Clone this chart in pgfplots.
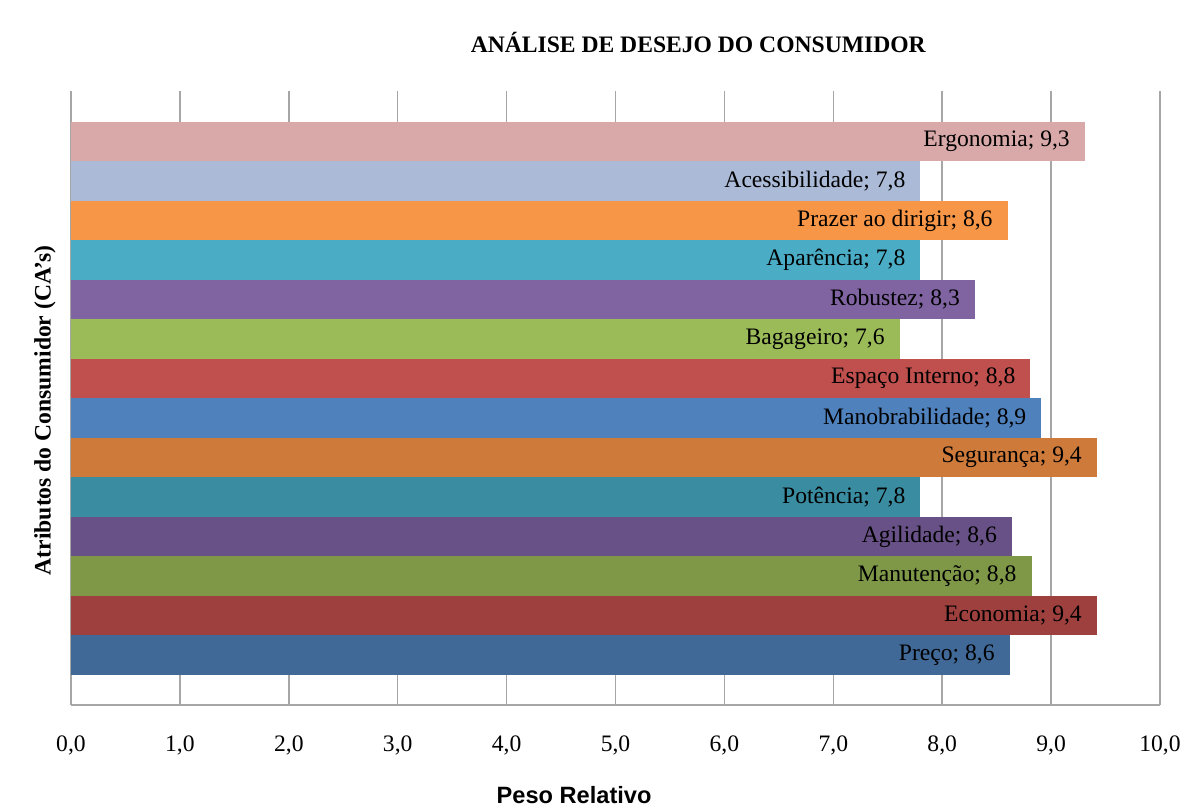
\documentclass[border=0pt]{standalone}
\usepackage{pgfplots}
\pgfplotsset{compat=1.18}
\usepackage{fontspec}
\setmainfont{Liberation Serif}
\newfontfamily\arialfont{Liberation Sans}
\definecolor{gridgray}{RGB}{166,166,166}
\definecolor{cErg}{RGB}{217,169,169}
\definecolor{cAce}{RGB}{170,186,215}
\definecolor{cPra}{RGB}{247,150,70}
\definecolor{cApa}{RGB}{75,172,198}
\definecolor{cRob}{RGB}{128,100,162}
\definecolor{cBag}{RGB}{155,187,89}
\definecolor{cEsp}{RGB}{192,80,77}
\definecolor{cMan}{RGB}{79,129,189}
\definecolor{cSeg}{RGB}{205,122,58}
\definecolor{cPot}{RGB}{58,140,160}
\definecolor{cAgi}{RGB}{104,81,134}
\definecolor{cMnt}{RGB}{126,152,72}
\definecolor{cEco}{RGB}{158,64,62}
\definecolor{cPre}{RGB}{64,105,152}
\newcommand{\cabar}[4]{\addplot[fill=#4, draw=none,
  nodes near coords={#1; \pgfmathprintnumber[use comma,fixed,fixed zerofill,precision=1,assume math mode=true]{\pgfplotspointmeta}}]
  coordinates {(#2,#3)};}
\begin{document}
\begin{tikzpicture}
\path[use as bounding box] (-35.5pt,-52pt) rectangle (559.5pt,352.5pt);
\begin{axis}[
  scale only axis,
  width=544.5pt, height=307pt,
  xbar, bar width=1, bar shift=0pt,
  xmin=0, xmax=10, ymin=-1.27, ymax=14.28,
  xtick={0,1,...,10},
  ytick=\empty,
  major tick length=0pt,
  xmajorgrids,
  grid style={gridgray, line width=0.75pt},
  axis x line*=bottom, axis y line*=left,
  axis line style={gridgray, line width=0.75pt, -},
  xticklabel style={font=\fontsize{11.8}{14}\selectfont, anchor=center, yshift=-20pt},
  xticklabel={\pgfmathprintnumber[use comma,fixed,fixed zerofill,precision=1,assume math mode=true]{\tick}},
  point meta=x,
  every node near coord/.append style={anchor=east, xshift=-4pt, font=\fontsize{11.8}{14}\selectfont, text=black},
  title={ANÁLISE DE DESEJO DO CONSUMIDOR},
  title style={at={(axis description cs:0.576,1.06)}, anchor=center, yshift=0pt, font=\bfseries\fontsize{11.8}{14}\selectfont},
  xlabel={Peso Relativo},
  xlabel style={at={(axis description cs:0.462,-0.1466)}, anchor=center, font=\arialfont\bfseries\fontsize{11.8}{14}\selectfont},
  ylabel={Atributos do Consumidor (CA's)},
  ylabel style={at={(axis description cs:-0.0239,0.48)}, anchor=center, font=\bfseries\fontsize{11.8}{14}\selectfont},
]
\cabar{Preço}{8.62}{0}{cPre}
\cabar{Economia}{9.42}{1}{cEco}
\cabar{Manutenção}{8.82}{2}{cMnt}
\cabar{Agilidade}{8.64}{3}{cAgi}
\cabar{Potência}{7.8}{4}{cPot}
\cabar{Segurança}{9.42}{5}{cSeg}
\cabar{Manobrabilidade}{8.91}{6}{cMan}
\cabar{Espaço Interno}{8.81}{7}{cEsp}
\cabar{Bagageiro}{7.61}{8}{cBag}
\cabar{Robustez}{8.3}{9}{cRob}
\cabar{Aparência}{7.8}{10}{cApa}
\cabar{Prazer ao dirigir}{8.6}{11}{cPra}
\cabar{Acessibilidade}{7.8}{12}{cAce}
\cabar{Ergonomia}{9.31}{13}{cErg}
\end{axis}
\end{tikzpicture}
\end{document}
